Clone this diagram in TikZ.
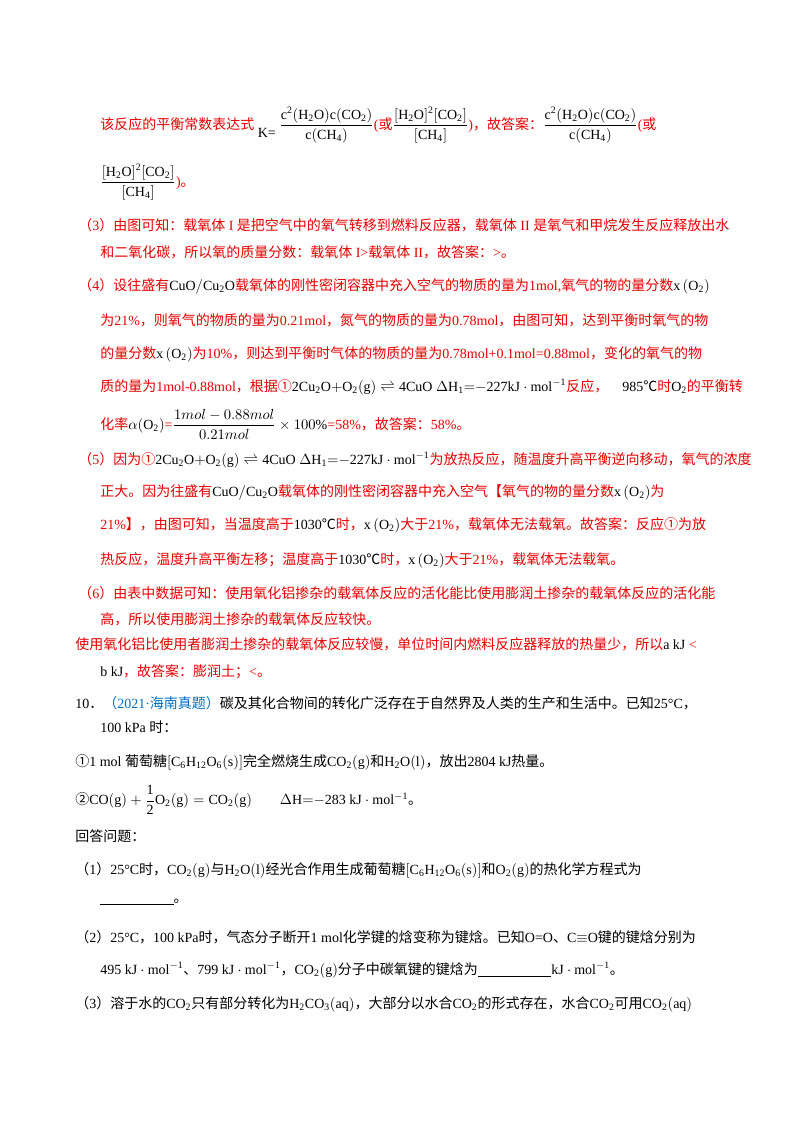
\documentclass[tikz,border=0pt]{standalone}
\usepackage{amsmath}
\usepackage{fontspec}
\setmainfont{Liberation Serif}
\newfontfamily\cjk{Noto Sans CJK SC}
\XeTeXinterchartokenstate=1
\newXeTeXintercharclass\CJKcls
\count255="3000
\loop \XeTeXcharclass\count255=\CJKcls \ifnum\count255<"9FFF \advance\count255 1 \repeat
\count255="FF00
\loop \XeTeXcharclass\count255=\CJKcls \ifnum\count255<"FFEF \advance\count255 1 \repeat
\XeTeXcharclass"2103=\CJKcls
\XeTeXcharclass"2460=\CJKcls
\XeTeXcharclass"2461=\CJKcls
\XeTeXinterchartoks 0 \CJKcls = {\cjk}
\XeTeXinterchartoks 4095 \CJKcls = {\cjk}
\XeTeXinterchartoks \CJKcls 0 = {\rmfamily}
\XeTeXinterchartoks \CJKcls 4095 = {\rmfamily}
\definecolor{rd}{RGB}{230,0,0}
\definecolor{bl}{RGB}{0,112,192}
\newcommand{\xo}{$\mathrm{x}\left(\mathrm{O_2}\right)$}
\newcommand{\rxn}{$\mathrm{2Cu_2O{+}O_2(g)\rightleftharpoons 4CuO}\ \Delta\mathrm{H_1{=}{-}227kJ\cdot mol^{-1}}$}
\begin{document}
\begin{tikzpicture}[x=0.75pt,y=-0.75pt,
  ln/.style={anchor=west,inner sep=0pt,font=\fontsize{10.5}{12}\selectfont},
  r/.style={ln,text=rd},
  k/.style={ln,text=black}]
\useasboundingbox (0,0) rectangle (800,1132);
\fill[white] (0,0) rectangle (800,1132);
\node[r] (l1) at (100,125) {该反应的平衡常数表达式 \raisebox{-6pt}{\color{black}K=}\ {\color{black}$\dfrac{\mathrm{c^2(H_2O)c(CO_2)}}{\mathrm{c(CH_4)}}$}(或{\color{black}$\dfrac{\mathrm{[H_2O]^2[CO_2]}}{\mathrm{[CH_4]}}$})，故答案：{\color{black}$\dfrac{\mathrm{c^2(H_2O)c(CO_2)}}{\mathrm{c(CH_4)}}$}(或};
\node[r] (l2) at (100,182) {{\color{black}$\dfrac{\mathrm{[H_2O]^2[CO_2]}}{\mathrm{[CH_4]}}$})。};
\node[r] (l3) at (78,225) {（3）由图可知：载氧体 I 是把空气中的氧气转移到燃料反应器，载氧体 II 是氧气和甲烷发生反应释放出水};
\node[r] (l4) at (100,252) {和二氧化碳，所以氧的质量分数：载氧体 I>载氧体 II，故答案：>。};
\node[r] (l5) at (78,286) {（4）设往盛有{\color{black}$\mathrm{CuO/Cu_2O}$}载氧体的刚性密闭容器中充入空气的物质的量为1mol,氧气的物的量分数{\color{black}\xo}};
\node[r] (l6) at (100,320) {为21\%，则氧气的物质的量为0.21mol，氮气的物质的量为0.78mol，由图可知，达到平衡时氧气的物};
\node[r] (l7) at (100,354) {的量分数{\color{black}\xo}为10\%，则达到平衡时气体的物质的量为0.78mol+0.1mol=0.88mol，变化的氧气的物};
\node[r] (l8) at (100,387) {质的量为1mol-0.88mol，根据①{\color{black}\rxn}反应，\quad{\color{black}985℃}时{\color{black}$\mathrm{O_2}$}的平衡转};
\node[r] (l9) at (100,424) {化率{\color{black}$\alpha(\mathrm{O_2})$}={\color{black}$\dfrac{1mol-0.88mol}{0.21mol}\times100\%$}=58\%，故答案：58\%。};
\node[r] (l10) at (78,460) {（5）因为①{\color{black}\rxn}为放热反应，随温度升高平衡逆向移动，氧气的浓度};
\node[r] (l11) at (100,492) {正大。因为往盛有{\color{black}$\mathrm{CuO/Cu_2O}$}载氧体的刚性密闭容器中充入空气【氧气的物的量分数{\color{black}\xo}为};
\node[r] (l12) at (100,525) {21\%】，由图可知，当温度高于{\color{black}1030℃}时，{\color{black}\xo}大于21\%，载氧体无法载氧。故答案：反应①为放};
\node[r] (l13) at (100,560) {热反应，温度升高平衡左移；温度高于{\color{black}1030℃}时，{\color{black}\xo}大于21\%，载氧体无法载氧。};
\node[r] (l14) at (78,593) {（6）由表中数据可知：使用氧化铝掺杂的载氧体反应的活化能比使用膨润土掺杂的载氧体反应的活化能};
\node[r] (l15) at (100,619) {高，所以使用膨润土掺杂的载氧体反应较快。};
\node[r] (l16) at (75,644) {使用氧化铝比使用者膨润土掺杂的载氧体反应较慢，单位时间内燃料反应器释放的热量少，所以{\color{black}a kJ} <};
\node[r] (l17) at (100,672) {{\color{black}b kJ}，故答案：膨润土；<。};
\node[k] (m1) at (75,703) {10．{\color{bl}（2021·海南真题）}碳及其化合物间的转化广泛存在于自然界及人类的生产和生活中。已知25°C，};
\node[k] (m2) at (100,727) {100 kPa 时：};
\node[k] (m3) at (75,762) {①1 mol 葡萄糖$\mathrm{\left[C_6H_{12}O_6(s)\right]}$完全燃烧生成$\mathrm{CO_2(g)}$和$\mathrm{H_2O(l)}$，放出2804 kJ热量。};
\node[k] (m4) at (75,800) {②$\mathrm{CO(g)+\dfrac{1}{2}O_2(g)=CO_2(g)}$\qquad$\Delta\mathrm{H{=}{-}283\ kJ\cdot mol^{-1}}$。};
\node[k] (m5) at (75,836) {回答问题：};
\node[k] (m6) at (75,870) {（1）25°C时，$\mathrm{CO_2(g)}$与$\mathrm{H_2O(l)}$经光合作用生成葡萄糖$\mathrm{\left[C_6H_{12}O_6(s)\right]}$和$\mathrm{O_2(g)}$的热化学方程式为};
\node[k] (m7) at (100,902) {\rule[-2pt]{55pt}{0.5pt}。};
\node[k] (m8) at (75,937) {（2）25°C，100 kPa时，气态分子断开1 mol化学键的焓变称为键焓。已知O=O、C$\equiv$O键的键焓分别为};
\node[k] (m9) at (100,970) {495 $\mathrm{kJ\cdot mol^{-1}}$、799 $\mathrm{kJ\cdot mol^{-1}}$，$\mathrm{CO_2(g)}$分子中碳氧键的键焓为\rule[-2pt]{55pt}{0.5pt}$\mathrm{kJ\cdot mol^{-1}}$。};
\node[k] (m10) at (75,1004) {（3）溶于水的$\mathrm{CO_2}$只有部分转化为$\mathrm{H_2CO_3(aq)}$，大部分以水合$\mathrm{CO_2}$的形式存在，水合$\mathrm{CO_2}$可用$\mathrm{CO_2(aq)}$};
\end{tikzpicture}
\end{document}
